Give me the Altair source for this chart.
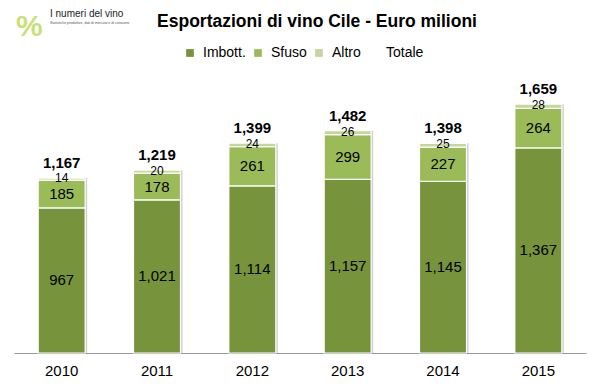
import altair as alt
import pandas as pd

years = ["2010", "2011", "2012", "2013", "2014", "2015"]
imbott = [967, 1021, 1114, 1157, 1145, 1367]
sfuso = [185, 178, 261, 299, 227, 264]
altro = [14, 20, 24, 26, 25, 28]
totale = [1167, 1219, 1399, 1482, 1398, 1659]
series = ["Imbott.", "Sfuso", "Altro", "Totale"]
colors = ["#77933C", "#9BBB59", "#C3D69B", "rgba(0,0,0,0)"]
title_text = "Esportazioni di vino Cile - Euro milioni"
logo_title = "I numeri del vino"
logo_sub = "Statistiche produttive, dati di mercato e di consumo"

rows = []
for i, y in enumerate(years):
    for k, (name, vals) in enumerate(zip(series[:3], [imbott, sfuso, altro])):
        rows.append({"anno": y, "serie": name, "valore": vals[i], "ord": k})
df = pd.DataFrame(rows)
tot = pd.DataFrame({"anno": years, "totale": totale})
one = pd.DataFrame({"k": [0]})

FONT = "Liberation Sans"
xenc = alt.X("anno:N", title=None, scale=alt.Scale(paddingInner=0.5, paddingOuter=0.25),
             axis=alt.Axis(labelAngle=0, labelFontSize=15, labelFont=FONT, labelColor="#000",
                           ticks=False, domainColor="#999", labelPadding=10))
yscale = alt.Scale(domain=[0, 1800], nice=False)

base = alt.Chart(df).transform_stack(
    stack="valore", groupby=["anno"], as_=["v0", "v1"], sort=[alt.SortField("ord")]
).transform_calculate(mid="(datum.v0 + datum.v1) / 2")

shadow = alt.Chart(tot).mark_bar(color="#d0d0d0", xOffset=2, size=47).encode(
    x=xenc,
    y=alt.Y("totale:Q", scale=yscale, axis=None),
)

bars = base.mark_bar(stroke="white", strokeWidth=1.2, size=47).encode(
    x=xenc,
    y=alt.Y("v0:Q", scale=yscale, axis=None),
    y2="v1:Q",
    color=alt.Color("serie:N", scale=alt.Scale(domain=series, range=colors),
                    legend=alt.Legend(title=None, orient="none", direction="horizontal",
                                      legendX=169, legendY=-37, symbolType="square",
                                      symbolSize=60, labelFontSize=14, labelFont=FONT,
                                      columnPadding=5, labelOffset=6,
                                      symbolStrokeWidth=0, padding=0,
                                      labelColor="#000")),
)

labels_main = base.transform_filter("datum.serie != 'Altro'").mark_text(
    fontSize=15, font=FONT, color="#000", baseline="middle"
).encode(
    x=xenc,
    y=alt.Y("mid:Q", scale=yscale, axis=None),
    text=alt.Text("valore:Q", format=","),
)

labels_altro = base.transform_filter("datum.serie == 'Altro'").mark_text(
    fontSize=12, font=FONT, color="#000", baseline="middle", dy=-1
).encode(
    x=xenc,
    y=alt.Y("mid:Q", scale=yscale, axis=None),
    text=alt.Text("valore:Q", format=","),
)

labels_tot = alt.Chart(tot).mark_text(
    fontSize=15, font=FONT, fontWeight="bold", color="#000", baseline="bottom", dy=-7
).encode(
    x=xenc,
    y=alt.Y("totale:Q", scale=yscale, axis=None),
    text=alt.Text("totale:Q", format=","),
)

title = alt.Chart(one).mark_text(
    text=title_text, fontSize=17.5, font="Liberation Sans Narrow, Liberation Sans",
    fontWeight="bold", color="#000", align="center", baseline="alphabetic"
).encode(x=alt.value(303), y=alt.value(-56))

logo_pct = alt.Chart(one).mark_text(
    text="%", fontSize=30, font=FONT, fontWeight="bold", color="#C9E07A",
    align="left", baseline="top"
).encode(x=alt.value(2), y=alt.value(-71))
logo_t1 = alt.Chart(one).mark_text(
    text=logo_title, fontSize=10, font=FONT, color="#222", align="left", baseline="top"
).encode(x=alt.value(36), y=alt.value(-74))
logo_t2 = alt.Chart(one).mark_text(
    text=logo_sub, fontSize=3.5, font=FONT, color="#555", align="left", baseline="top"
).encode(x=alt.value(36), y=alt.value(-62))

chart = alt.layer(shadow, bars, labels_main, labels_altro, labels_tot,
                  title, logo_pct, logo_t1, logo_t2).properties(
    width=572, height=270,
    autosize=alt.AutoSizeParams(type="none"),
    padding={"left": 6, "top": 75, "right": 5, "bottom": 28},
).configure_view(stroke=None).configure_axis(grid=False)

chart.save("out.html", embed_options={"renderer": "svg", "actions": False})
